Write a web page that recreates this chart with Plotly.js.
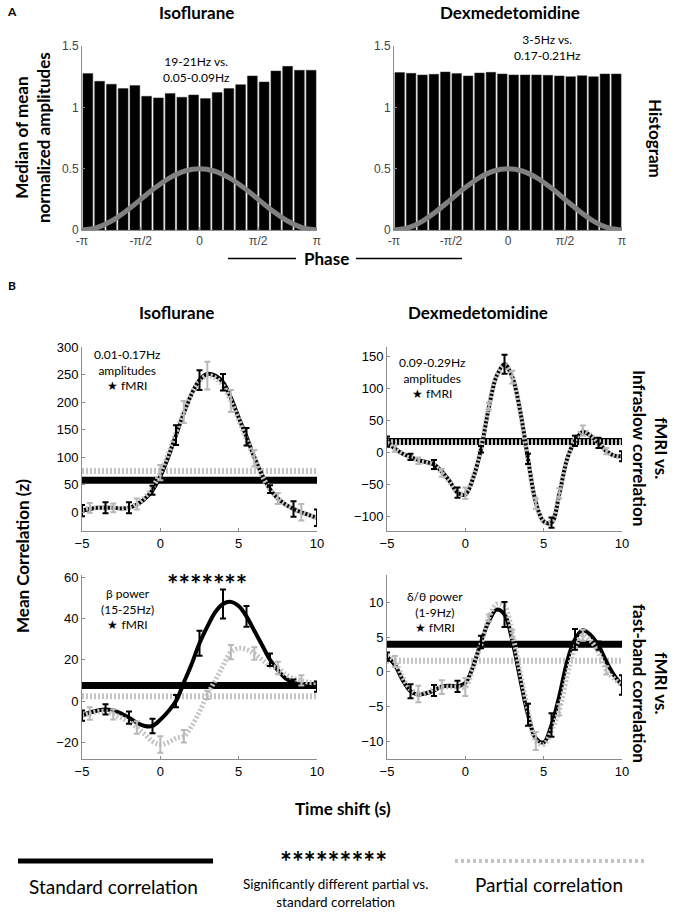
<!DOCTYPE html>
<html><head><meta charset="utf-8">
<script src="https://cdn.plot.ly/plotly-3.0.1.min.js"></script>
<style>html,body{margin:0;padding:0;background:#fff}#chart{width:684px;height:913px}</style>
</head><body><div id="chart"></div>
<script>
// ---------- DATA ----------
const phaseTickVals = [-Math.PI, -Math.PI/2, 0, Math.PI/2, Math.PI];
const phaseTickText = ['-π', '-π/2', '0', 'π/2', 'π'];
const histIso = [1.275,1.212,1.188,1.153,1.177,1.090,1.077,1.112,1.082,1.101,1.071,1.120,1.153,1.185,1.256,1.207,1.296,1.334,1.302,1.302];
const histDex = [1.283,1.277,1.264,1.269,1.288,1.275,1.256,1.280,1.285,1.272,1.264,1.264,1.264,1.261,1.256,1.250,1.258,1.250,1.272,1.272];
const phaseCurveSteps = [-8,-7,-6,-5,-4,-3,-2,-1,0,1,2,3,4,5,6,7,8]; // multiples of pi/8
const phaseCurve = [0,0.019,0.073,0.154,0.25,0.346,0.427,0.481,0.5,0.481,0.427,0.346,0.25,0.154,0.073,0.019,0];

const timeShift = [-5,-4.5,-4,-3.5,-3,-2.5,-2,-1.5,-1,-0.5,0,0.5,1,1.5,2,2.5,3,3.5,4,4.5,5,5.5,6,6.5,7,7.5,8,8.5,9,9.5,10];

// Isoflurane, infraslow
const isoInfraStd  = [3,6,8,8,8,7,8,14,24,40,65,100,140,180,215,240,251,248,236,208,172,137,100,68,42,25,14,6,0,-5,-10];
const isoInfraPart = [5,8,8,8,8,7,9,15,27,45,72,105,145,182,215,238,248,244,230,202,168,132,98,66,42,25,14,6,0,-5,-10];
const isoInfraStdErr  = [10,10,10,8,18,18,15,16,7,14,15];
const isoInfraPartErr = [9,8,10,14,20,25,20,15,10,15];
const isoInfraThrStd = 58, isoInfraThrPart = 75;

// Dexmedetomidine, infraslow
const dexInfraStd  = [17,6,-2,-7,-12,-15,-19,-30,-45,-63,-66,-40,5,70,120,138,118,65,-10,-78,-108,-110,-65,-10,18,32,26,15,2,-5,-6];
const dexInfraPart = [15,6,-2,-8,-13,-16,-20,-32,-47,-62,-64,-38,8,72,120,136,118,62,-12,-80,-108,-108,-64,-10,20,34,27,15,2,-5,-7];
const dexInfraStdErr  = [8,5,7,8,5,15,8,8,8,8,8];
const dexInfraPartErr = [5,5,6,9,6,10,8,8,8,5];
const dexInfraThrStd = 17, dexInfraThrPart = 16;

// Isoflurane, beta power
const isoFastStd  = [-7,-5.5,-4.5,-4,-4.5,-6,-8,-10.5,-12,-12,-9,-5,0,9,18,28,36,43,47,48,46,41,34,27,20,15,11,9,8,7.5,7];
const isoFastPart = [-7,-6,-5,-5,-6.4,-8,-10,-12.8,-16,-19.5,-21,-20,-18,-17,-12,-5,3,10,17,23.7,25.5,25,23,20,17,16,13,11,10,9,9];
const isoFastStdErr  = [2.5,2.5,3,3.5,3,6,7,5,3,1.5,2.5];
const isoFastPartErr = [3,2.5,3,4,3,2,3.5,3,3,2.5];
const isoFastThrStd = 7.5, isoFastThrPart = 2.4;

// Dexmedetomidine, delta/theta power
const dexFastStd  = [2.2,1.0,-1.2,-2.8,-3.3,-3.1,-2.7,-2.1,-2.0,-2.1,-1.6,0.8,4.3,7.3,9.0,8.3,4.5,-1,-6.2,-9.6,-10.2,-7.7,-3.5,1.5,4.7,6.0,5.3,3.8,1.5,-0.5,-1.9];
const dexFastPart = [2.3,1.5,-0.8,-2.5,-3.2,-3.0,-2.5,-2.2,-2.2,-2.2,-2.2,0.5,4.0,7.8,9.8,9.5,5.5,0,-5.5,-10,-10.5,-8.5,-5.5,-0.5,3.5,5.3,4.5,2.8,0.2,-1,-2];
const dexFastStdErr  = [0.6,1.0,0.8,0.8,0.9,1.8,1.6,1.7,1.5,0.6,1.4];
const dexFastPartErr = [0.8,1.2,1.0,1.3,0.5,0.6,1.3,0.8,0.8,0.6];
const dexFastThrStd = 4.0, dexFastThrPart = 1.6;

// ---------- HELPERS ----------
const W = 684, H = 913;
const px = x => x / W;
const py = y => 1 - y / H;
const BLACK = '#000000', GRAY = '#c4c4c4', GRAYERR = '#b8b8b8';
const TXT = 'Lato, "Noto Sans", sans-serif';
const NUM = '"Liberation Sans", Arial, sans-serif';

const traces = [];
function addHist(vals, xa, ya) {
  const n = vals.length, w = 2 * Math.PI / n;
  traces.push({type: 'bar', x: vals.map((v, i) => -Math.PI + (i + 0.5) * w), y: vals, width: w * 0.84,
    marker: {color: BLACK, line: {color: '#333', width: 0.5}}, xaxis: xa, yaxis: ya, hoverinfo: 'skip'});
  traces.push({type: 'scatter', mode: 'lines', x: phaseCurveSteps.map(k => k * Math.PI / 8), y: phaseCurve,
    line: {color: '#808080', width: 5, shape: 'spline'}, xaxis: xa, yaxis: ya, hoverinfo: 'skip'});
}
function addCorr(std, part, stdErr, partErr, thrStd, thrPart, xa, ya) {
  const xr = [timeShift[0], timeShift[timeShift.length - 1]];
  traces.push({type: 'scatter', mode: 'lines', x: xr, y: [thrStd, thrStd], line: {color: BLACK, width: 7}, xaxis: xa, yaxis: ya});
  traces.push({type: 'scatter', mode: 'lines', x: xr, y: [thrPart, thrPart], line: {color: GRAY, width: 6, dash: '2px,2px'}, xaxis: xa, yaxis: ya});
  traces.push({type: 'scatter', mode: 'lines', x: timeShift, y: std, line: {color: BLACK, width: 4, shape: 'spline', smoothing: 1}, xaxis: xa, yaxis: ya});
  traces.push({type: 'scatter', mode: 'lines', x: timeShift, y: part, line: {color: GRAY, width: 5, shape: 'spline', smoothing: 1, dash: '2px,2px'}, xaxis: xa, yaxis: ya});
  const si = stdErr.map((e, k) => 3 * k), pi = partErr.map((e, k) => 3 * k + 1);
  traces.push({type: 'scatter', mode: 'markers', x: pi.map(i => timeShift[i]), y: pi.map(i => part[i]),
    marker: {size: 1, color: 'rgba(0,0,0,0)'}, error_y: {type: 'data', array: partErr, color: GRAYERR, thickness: 2, width: 3},
    xaxis: xa, yaxis: ya});
  traces.push({type: 'scatter', mode: 'markers', x: si.map(i => timeShift[i]), y: si.map(i => std[i]),
    marker: {size: 1, color: 'rgba(0,0,0,0)'}, error_y: {type: 'data', array: stdErr, color: BLACK, thickness: 2, width: 3},
    xaxis: xa, yaxis: ya});
}

addHist(histIso, 'x', 'y');
addHist(histDex, 'x2', 'y2');
addCorr(isoInfraStd, isoInfraPart, isoInfraStdErr, isoInfraPartErr, isoInfraThrStd, isoInfraThrPart, 'x3', 'y3');
addCorr(dexInfraStd, dexInfraPart, dexInfraStdErr, dexInfraPartErr, dexInfraThrStd, dexInfraThrPart, 'x4', 'y4');
addCorr(isoFastStd, isoFastPart, isoFastStdErr, isoFastPartErr, isoFastThrStd, isoFastThrPart, 'x5', 'y5');
addCorr(dexFastStd, dexFastPart, dexFastStdErr, dexFastPartErr, dexFastThrStd, dexFastThrPart, 'x6', 'y6');

function axBase(extra) {
  return Object.assign({showline: true, linecolor: '#8c8c8c', linewidth: 1, ticks: 'inside', ticklen: 3,
    tickcolor: '#8c8c8c', showgrid: false, zeroline: false, tickfont: {family: NUM, size: 13, color: '#000'},
    fixedrange: true, mirror: false}, extra);
}
const xL = [px(82), px(317)], xR1 = [px(394), px(622)], xR = [px(387), px(622)];
const yTop = [py(230), py(46)], yMid = [py(531), py(347)], yBot = [py(759), py(575)];

const layout = {
  width: W, height: H, margin: {l: 0, r: 0, t: 0, b: 0}, paper_bgcolor: '#fff', plot_bgcolor: '#fff',
  showlegend: false, bargap: 0,
  xaxis:  axBase({domain: xL, anchor: 'y', range: [-Math.PI, Math.PI], tickvals: phaseTickVals, ticktext: phaseTickText, tickfont: {family: NUM, size: 12}}),
  yaxis:  axBase({domain: yTop, anchor: 'x', range: [0, 1.5], tickvals: [0, 0.5, 1, 1.5], ticktext: ['0', '0.5', '1', '1.5'], tickfont: {family: NUM, size: 12}}),
  xaxis2: axBase({domain: xR1, anchor: 'y2', range: [-Math.PI, Math.PI], tickvals: phaseTickVals, ticktext: phaseTickText, tickfont: {family: NUM, size: 12}}),
  yaxis2: axBase({domain: yTop, anchor: 'x2', range: [0, 1.5], tickvals: [0, 0.5, 1, 1.5], ticktext: ['0', '0.5', '1', '1.5'], tickfont: {family: NUM, size: 12}}),
  xaxis3: axBase({domain: xL, anchor: 'y3', range: [-5, 10], tickvals: [-5, 0, 5, 10]}),
  yaxis3: axBase({domain: yMid, anchor: 'x3', range: [-34, 300], tickvals: [0, 50, 100, 150, 200, 250, 300]}),
  xaxis4: axBase({domain: xR, anchor: 'y4', range: [-5, 10], tickvals: [-5, 0, 5, 10]}),
  yaxis4: axBase({domain: yMid, anchor: 'x4', range: [-123, 165], tickvals: [-100, -50, 0, 50, 100, 150]}),
  xaxis5: axBase({domain: xL, anchor: 'y5', range: [-5, 10], tickvals: [-5, 0, 5, 10]}),
  yaxis5: axBase({domain: yBot, anchor: 'x5', range: [-28, 61], tickvals: [-20, 0, 20, 40, 60]}),
  xaxis6: axBase({domain: xR, anchor: 'y6', range: [-5, 10], tickvals: [-5, 0, 5, 10]}),
  yaxis6: axBase({domain: yBot, anchor: 'x6', range: [-12.6, 14], tickvals: [-10, -5, 0, 5, 10]}),
  shapes: [
    {type: 'line', xref: 'paper', yref: 'paper', x0: px(228), x1: px(296), y0: py(258.5), y1: py(258.5), line: {color: '#000', width: 1.5}},
    {type: 'line', xref: 'paper', yref: 'paper', x0: px(356), x1: px(462), y0: py(258.5), y1: py(258.5), line: {color: '#000', width: 1.5}},
    {type: 'line', xref: 'paper', yref: 'paper', x0: px(18), x1: px(213), y0: py(861), y1: py(861), line: {color: '#000', width: 5}},
    {type: 'line', xref: 'paper', yref: 'paper', x0: px(455), x1: px(645), y0: py(861), y1: py(861), line: {color: GRAY, width: 4, dash: '3px,3px'}}
  ],
  annotations: []
};

function ann(text, x, y, size, opts) {
  layout.annotations.push(Object.assign({text: text, xref: 'paper', yref: 'paper', x: px(x), y: py(y),
    xanchor: 'center', yanchor: 'middle', showarrow: false, font: {family: TXT, size: size, color: '#000'}}, opts || {}));
}
ann('<b>A</b>', 12, 12, 12);
ann('<b>Isoflurane</b>', 196, 13, 17);
ann('<b>Dexmedetomidine</b>', 510, 13, 17);
ann('<b>Median of mean<br>normalized amplitudes</b>', 32, 138, 17, {textangle: -90});
ann('<b>Histogram</b>', 656, 138, 17, {textangle: 90});
ann('19-21Hz vs.<br>0.05-0.09Hz', 196, 69, 12);
ann('3-5Hz vs.<br>0.17-0.21Hz', 547, 48, 12);
ann('<b>Phase</b>', 326, 258, 17);
ann('<b>B</b>', 12, 285, 12);
ann('<b>Isoflurane</b>', 176, 313, 17);
ann('<b>Dexmedetomidine</b>', 478, 313, 17);
ann('<b>Mean Correlation (z)</b>', 22, 556, 17, {textangle: -90});
ann('<b>fMRI vs.<br>Infraslow correlation</b>', 651, 448, 17, {textangle: 90});
ann('<b>fMRI vs.<br>fast-band correlation</b>', 651, 683, 17, {textangle: 90});
ann('0.01-0.17Hz<br>amplitudes<br>★ fMRI', 127, 370, 12);
ann('0.09-0.29Hz<br>amplitudes<br>★ fMRI', 432, 378, 12);
ann('β power<br>(15-25Hz)<br>★ fMRI', 127, 609, 12);
ann('δ/θ power<br>(1-9Hz)<br>★ fMRI', 435, 612, 12);
ann('<b>*******</b>', 207, 583, 27);
ann('<b>Time shift (s)</b>', 343, 808, 17);
ann('<b>*********</b>', 333, 861, 28);
ann('Standard correlation', 113, 886, 19);
ann('Significantly different partial vs.<br>standard correlation', 335, 893, 13.5);
ann('Partial correlation', 549, 884, 19);

Plotly.newPlot('chart', traces, layout, {displayModeBar: false, staticPlot: true});
</script>
</body></html>
